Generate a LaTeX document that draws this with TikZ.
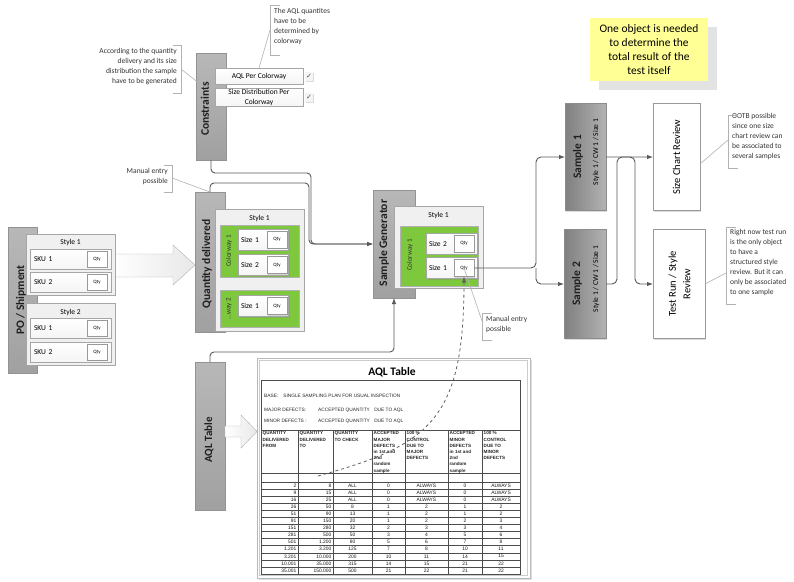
\documentclass[tikz,border=0pt]{standalone}
\usepackage{fontspec}
\setmainfont{Carlito}
\newfontfamily\tabfont{Liberation Sans}
\newfontfamily\symfont{DejaVu Sans}
\usetikzlibrary{shadows,arrows.meta}
\definecolor{cwgreen}{RGB}{126,200,62}
\definecolor{linec}{RGB}{89,89,89}
\definecolor{notey}{RGB}{255,255,150}
\begin{document}
\begin{tikzpicture}[x=1pt,y=-1pt,
 sz/.style 2 args={minimum width=#1pt, minimum height=#2pt},
 box/.style={rectangle, inner sep=0pt, outer sep=0pt},
 shd/.style={drop shadow={shadow xshift=1.2pt, shadow yshift=-1.2pt, opacity=0.28}},
 graybox/.style={box, draw=gray!85, top color=gray!56, bottom color=gray!74, shd},
 darkbox/.style={box, draw=gray!90, left color=black!50, right color=black!30, shd},
 whitebox/.style={box, draw=gray!80, fill=white, shd},
 cont/.style={box, draw=gray!70, fill=gray!12, shd},
 row/.style={box, draw=gray!70, top color=white, bottom color=gray!8, align=left, font=\fontsize{7.5}{9}\selectfont, shd},
 qty/.style={box, draw=gray!80, fill=white, sz={20}{16}, font=\fontsize{5}{6}\selectfont, shd},
 green/.style={box, draw=gray!60, fill=cwgreen},
 lbl/.style={font=\fontsize{11.5}{13}\selectfont\bfseries, text=black!88, inner sep=0pt},
 ttl/.style={font=\fontsize{7.5}{9}\selectfont, inner sep=0pt},
 cwl/.style={font=\fontsize{7}{8}\selectfont, text=black!80, inner sep=0pt, rotate=90},
 conn/.style={draw=linec, line width=0.9pt, -{Latex[length=6pt,width=4.5pt]}},
 brk/.style={draw=gray!60, line width=0.6pt},
 call/.style={font=\fontsize{7.5}{10}\selectfont, text=black!80, inner sep=0pt},
 hollow/.style={draw=gray!60, left color=white, right color=gray!18},
 tline/.style={draw=black!70, line width=0.5pt},
 tabh/.style={font=\tabfont\bfseries\fontsize{4.6}{6.2}\selectfont, text=black!85, inner sep=0pt, align=left},
 tabt/.style={font=\tabfont\fontsize{4.8}{6}\selectfont, text=black!85, inner sep=0pt},
 tabd/.style={font=\tabfont\fontsize{4.9}{5.5}\selectfont, text=black!90, inner sep=0pt},
 ]
\useasboundingbox (0,0) rectangle (794,581);
\fill[white] (0,0) rectangle (794,581);

% ---------- yellow note ----------
\node[box, fill=notey, sz={118}{63}, align=center, font=\fontsize{11.5}{14}\selectfont,
  drop shadow={shadow xshift=9pt, shadow yshift=-9pt, fill=gray!22, opacity=1}] (note) at (649,49.5)
  {One object is needed\\to determine the\\total result of the\\test itself};

% ---------- callouts (top) ----------
\node[call, anchor=north west, align=left] (c1) at (274,8) {The AQL quantites\\have to be\\determined by\\colorway};
\draw[brk] (280,5) -- (270,5) -- (270,55) -- (280,55);
\node[call, anchor=north east, align=right] (c2) at (177,48) {According to the quantity\\delivery and its size\\distribution the sample\\have to be generated};
\draw[brk] (173,45) -- (181,45) -- (181,93) -- (173,93);
\node[call, anchor=north east, align=right] (me1) at (168,168) {Manual entry\\possible};
\draw[brk] (164,165) -- (172,165) -- (172,192) -- (164,192);

% ---------- connectors (behind boxes) ----------
\node[graybox, sz={30}{107}] (cons) at (211,106.5) {};
\node[graybox, sz={30}{140}] (qd) at (210,262) {};
\node[graybox, sz={42}{108}] (sg) at (394,244) {};
\node[graybox, sz={30}{148}] (aqlg) at (210,436) {};
\draw[conn, rounded corners=4pt] (cons.south) -- (211,173) -- (311,173) -- (311,244) -- (sg.west);
\draw[conn, rounded corners=4pt] (qd.north) -- (210,183) -- (309,183) -- (309,244) -- (sg.west);
\draw[conn, rounded corners=4pt] (aqlg.north) -- (210,352) -- (394,352) -- (sg.south);

% ---------- PO / Shipment ----------
\node[graybox, sz={29}{146}] (po) at (22.5,300) {};
\node[lbl, rotate=90] (polbl) at (21,300) {PO / Shipment};
\path[hollow] (113,254) -- (173,254) -- (173,245) -- (195,265) -- (173,285) -- (173,277) -- (113,277) -- cycle;
\node[cont, sz={89}{61}] (pos1) at (70.5,264.5) {};
\node[ttl] (pos1t) at (70.5,242) {Style 1};
\node[row, sz={81}{20}, text width=73pt, inner xsep=4pt] (sku11) at (70.5,259) {SKU 1};
\node[qty] (q11) at (97,259) {Qty};
\node[row, sz={81}{20}, text width=73pt, inner xsep=4pt] (sku12) at (70.5,282) {SKU 2};
\node[qty] (q12) at (97,282) {Qty};
\node[cont, sz={89}{62}] (pos2) at (70.5,334) {};
\node[ttl] (pos2t) at (70.5,312) {Style 2};
\node[row, sz={81}{20}, text width=73pt, inner xsep=4pt] (sku21) at (70.5,328) {SKU 1};
\node[qty] (q21) at (97,328) {Qty};
\node[row, sz={81}{20}, text width=73pt, inner xsep=4pt] (sku22) at (70.5,352) {SKU 2};
\node[qty] (q22) at (97,352) {Qty};

% ---------- Constraints ----------
\node[lbl, rotate=90] (conslbl) at (205,109) {Constraints};
\node[row, sz={88}{16}, align=center] (aqlpc) at (259,76) {AQL Per Colorway};
\node[row, sz={88}{18}, align=center, font=\fontsize{7.5}{10}\selectfont] (sdpc) at (259,97) {Size Distribution Per\\Colorway};
\node[box, fill=gray!8, sz={8}{9}, font=\symfont\fontsize{7}{7}\selectfont, text=black!70, shd] (chk1) at (309,76.5) {✓};
\node[box, fill=gray!8, sz={8}{9}, font=\symfont\fontsize{7}{7}\selectfont, text=black!70, shd] (chk2) at (309,97.5) {✓};
\draw[brk] (270,30) -- (aqlpc.north);
\draw[brk] (181,69) -- (205,88);

% ---------- Quantity delivered ----------
\node[lbl, rotate=90] (qdlbl) at (207,264) {Quantity delivered};
\draw[brk] (172,178) -- (qd.north);
\node[cont, sz={89}{122}] (qds1) at (259.5,270) {};
\node[ttl] (qds1t) at (259.5,218) {Style 1};
\node[green, sz={79}{52}] (qcw1) at (259.5,251) {};
\node[cwl] (qcw1t) at (229,251) {Colorway 1};
\node[row, sz={49}{21}, text width=45pt, inner xsep=2.5pt] (qs11) at (263.5,239.5) {Size 1};
\node[qty, sz={20}{17}] (qq11) at (277,239.5) {Qty};
\node[row, sz={49}{21}, text width=45pt, inner xsep=2.5pt] (qs12) at (263.5,265) {Size 2};
\node[qty, sz={20}{17}] (qq12) at (277,265) {Qty};
\node[green, sz={79}{37}] (qcw2) at (259.5,308.5) {};
\node[cwl] (qcw2t) at (229,308.5) {...way 2};
\node[row, sz={49}{21}, text width=45pt, inner xsep=2.5pt] (qs21) at (263.5,306) {Size 1};
\node[qty, sz={20}{17}] (qq21) at (277,306) {Qty};
\path[hollow] (225,426) -- (241,426) -- (241,415) -- (257,431.5) -- (241,448) -- (241,437) -- (225,437) -- cycle;

% ---------- Sample generator ----------
\node[lbl, rotate=90] (sglbl) at (384,243) {Sample Generator};
\node[cont, sz={89}{82}] (sgs1) at (438.5,247) {};
\node[ttl] (sgs1t) at (438.5,215) {Style 1};
\node[green, sz={78}{60}] (sgcw1) at (439,256) {};
\node[cwl] (sgcw1t) at (410,255) {Colorway 1};
\node[row, sz={50}{21}, text width=46pt, inner xsep=2.5pt] (sgs2) at (452,243.5) {Size 2};
\node[qty, sz={20}{17}] (sgq2) at (464,243.5) {Qty};
\node[row, sz={50}{21}, text width=46pt, inner xsep=2.5pt] (sgs1r) at (452,268) {Size 1};
\node[qty, sz={20}{17}] (sgq1) at (464,268) {Qty};

\node[call, anchor=north west, align=left] (me2) at (486,316) {Manual entry\\possible};
\draw[brk] (492,313) -- (482,313) -- (482,340) -- (492,340);
\draw[brk] (sgq1.center) -- (482,321);

% ---------- Samples and reviews ----------
\node[darkbox, sz={41}{107}] (s1) at (585.5,157) {};
\node[lbl, rotate=90] (s1t) at (578,157) {Sample 1};
\node[ttl, rotate=90] (s1s) at (596,152) {Style 1 / CW 1 / Size 1};
\node[darkbox, sz={42}{109}] (s2) at (585,284) {};
\node[lbl, rotate=90] (s2t) at (577,284) {Sample 2};
\node[ttl, rotate=90] (s2s) at (596,279) {Style 1 / CW 1 / Size 1};
\node[whitebox, sz={47}{107}] (scr) at (676.5,157) {};
\node[rotate=90, font=\fontsize{10.5}{13}\selectfont, inner sep=0] (scrt) at (676.5,157) {Size Chart Review};
\node[whitebox, sz={52}{109}] (tr) at (679,284) {};
\node[rotate=90, align=center, font=\fontsize{10.5}{14.5}\selectfont, inner sep=0] (trt) at (679.5,284) {Test Run / Style\\Review};

\draw[conn, rounded corners=5pt] (sgq1.east) -- (536,268) -- (536,157) -- (s1.west);
\draw[conn, rounded corners=5pt] (536,268) -- (536,284) -- (s2.west);
\draw[conn, rounded corners=5pt] (s1.east) -- (635,157) -- (635,284) -- (tr.west);
\draw[conn, rounded corners=5pt] (s2.east) -- (617,284) -- (617,157) -- (scr.west);

\node[call, anchor=north west, align=left] (c3) at (732,113.5) {OOTB possible\\since one size\\chart review can\\be associated to\\several samples};
\draw[brk] (738,115) -- (728,115) -- (728,168) -- (738,168);
\draw[brk] (728,140) -- ([yshift=-7pt]scr.east);
\node[call, anchor=north west, align=left] (c4) at (730,229.5) {Right now test run\\is the only object\\to have a\\structured style\\review. But it can\\only be associated\\to one sample};
\draw[brk] (736,227) -- (726,227) -- (726,304) -- (736,304);
\draw[brk] (726,273) -- (tr.east);

% ---------- AQL table ----------
\node[lbl, rotate=90, font=\fontsize{11}{13}\selectfont\bfseries] (aqllbl) at (209,440) {AQL Table};
\node[box, draw=gray!55, fill=white, sz={273}{220}, drop shadow={shadow xshift=1.5pt,shadow yshift=-1.5pt,opacity=0.25}] (aqlimg) at (393.5,468) {};
\draw[draw=gray!40, line width=0.5pt] (259.5,360.5) rectangle (527.5,575.5);
\node[font=\fontsize{11.5}{13}\selectfont\bfseries, inner sep=0] (aqlttl) at (392,372) {AQL Table};
\draw[tline] (261,380) rectangle (520,574);
\draw[tline] (261,430) -- (520,430);
\draw[tline] (261,473) -- (520,473);
\draw[tline] (261,482) -- (520,482);
\foreach \xx in {298,333,372,405,448,482} \draw[tline] (\xx,430) -- (\xx,574);
\foreach \ii in {1,...,12} \draw[tline] (261,{482+\ii*7.077}) -- (520,{482+\ii*7.077});
\node[tabt, anchor=base west] (bs1) at (264,397) {BASE:\hspace{5pt}SINGLE SAMPLING PLAN FOR USUAL INSPECTION};
\node[tabt, anchor=base west] (bs2) at (264,411) {MAJOR DEFECTS:};
\node[tabt, anchor=base west] (bs2b) at (318,411) {ACCEPTED QUANTITY\hspace{3pt} DUE TO AQL};
\node[tabt, anchor=base west] (bs3) at (264,422) {MINOR DEFECTS :};
\node[tabt, anchor=base west] (bs3b) at (318,422) {ACCEPTED QUANTITY\hspace{3pt} DUE TO AQL};
\node[tabh, anchor=north west] (h1) at (262.5,431.5) {QUANTITY\\DELIVERED\\FROM};
\node[tabh, anchor=north west] (h2) at (299.5,431.5) {QUANTITY\\DELIVERED\\TO};
\node[tabh, anchor=north west] (h3) at (334.5,431.5) {QUANTITY\\TO CHECK};
\node[tabh, anchor=north west] (h4) at (373.5,431.5) {ACCEPTED\\MAJOR\\DEFECTS\\in 1st and\\2nd\\random\\sample};
\node[tabh, anchor=north west] (h5) at (406.5,431.5) {100 \%\\CONTROL\\DUE TO\\MAJOR\\DEFECTS};
\node[tabh, anchor=north west] (h6) at (449.5,431.5) {ACCEPTED\\MINOR\\DEFECTS\\in 1st and\\2nd\\random\\sample};
\node[tabh, anchor=north west] (h7) at (483.5,431.5) {100 \%\\CONTROL\\DUE TO\\MINOR\\DEFECTS};
\foreach \ri/\va/\vb/\vc/\vd/\ve/\vf/\vg in {
1/2/8/ALL/0/ALWAYS/0/ALWAYS,
2/9/15/ALL/0/ALWAYS/0/ALWAYS,
3/16/25/ALL/0/ALWAYS/0/ALWAYS,
4/26/50/8/1/2/1/2,
5/51/90/13/1/2/1/2,
6/91/150/20/1/2/2/3,
7/151/280/32/2/3/3/4,
8/281/500/50/3/4/5/6,
9/501/1.200/80/5/6/7/8,
10/1.201/3.200/125/7/8/10/11,
11/3.201/10.000/200/10/11/14/15,
12/10.001/35.000/315/14/15/21/22,
13/35.001/150.000/500/21/22/21/22}{
 \pgfmathsetmacro\yy{482+(\ri-0.5)*7.077}
 \node[tabd, anchor=east] (d\ri-1) at (296.5,\yy) {\va};
 \node[tabd, anchor=east] (d\ri-2) at (331.5,\yy) {\vb};
 \node[tabd] (d\ri-3) at (352.5,\yy) {\vc};
 \node[tabd] (d\ri-4) at (388.5,\yy) {\vd};
 \node[tabd] (d\ri-5) at (426.5,\yy) {\ve};
 \node[tabd] (d\ri-6) at (465,\yy) {\vf};
 \node[tabd] (d\ri-7) at (501,\yy) {\vg};
}

% ---------- dashed link ----------
\coordinate (dstart) at (318,476);
\draw[conn, dashed, draw=gray!75!black, line width=0.8pt] (dstart) .. controls (430,445) and (464,420) .. (sgq1.south);
\end{tikzpicture}
\end{document}
